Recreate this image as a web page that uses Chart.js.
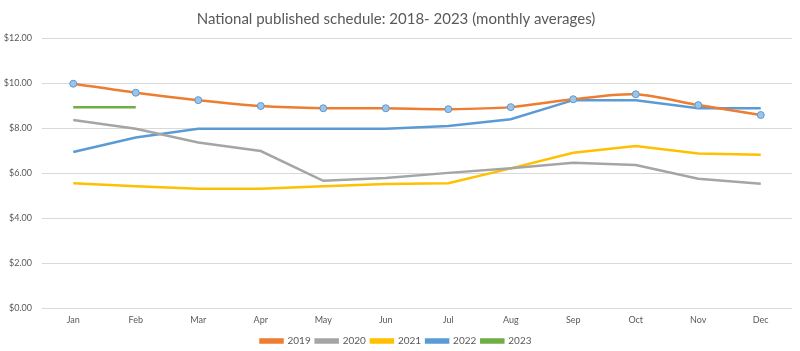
<!DOCTYPE html>
<html lang="en">
<head>
    <meta charset="UTF-8">
    <title>National published schedule</title>
    <script src="https://cdn.jsdelivr.net/npm/chart.js@4/dist/chart.umd.min.js"></script>
    <style>
        html, body { margin: 0; padding: 0; background: #fff; }
        #wrap { width: 800px; height: 351px; }
    </style>
</head>
<body>
    <div id="wrap"><canvas id="myChart"></canvas></div>

    <script>
        const months = ["Jan", "Feb", "Mar", "Apr", "May", "Jun", "Jul", "Aug", "Sep", "Oct", "Nov", "Dec"];
        const y2019 = [9.97, 9.57, 9.24, 8.98, 8.88, 8.88, 8.84, 8.93, 9.28, 9.50, 9.02, 8.58];
        const y2020 = [8.36, 7.97, 7.36, 6.98, 5.66, 5.78, 6.01, 6.21, 6.46, 6.36, 5.75, 5.53];
        const y2021 = [5.55, 5.42, 5.30, 5.30, 5.42, 5.52, 5.55, 6.21, 6.90, 7.20, 6.87, 6.81];
        const y2022 = [6.94, 7.58, 7.97, 7.97, 7.97, 7.97, 8.09, 8.39, 9.24, 9.23, 8.88, 8.88];
        const y2023 = [8.92, 8.92];

        const grey = "#595959";
        const font = "Lato, 'Open Sans', sans-serif";

        const line = (label, data, color, extra) => Object.assign({
            label: label,
            data: data,
            borderColor: color,
            backgroundColor: color,
            borderWidth: 2.5,
            pointRadius: 0,
            tension: 0,
            fill: false
        }, extra || {});

        // shrink the legend box so the plot reaches further down, like the original
        const legendTrim = {
            id: "legendTrim",
            beforeInit(chart) {
                const fit = chart.legend.fit;
                chart.legend.fit = function () {
                    fit.call(this);
                    this.height -= 5;
                };
            }
        };

        const chart = new Chart("myChart", {
            type: "line",
            data: {
                labels: months,
                datasets: [
                    line("2019", y2019, "#ED7D31", {
                        tension: 0.3,
                        pointRadius: 3.5,
                        pointBackgroundColor: "#9DC3E6",
                        pointBorderColor: "#5B9BD5",
                        pointBorderWidth: 1
                    }),
                    line("2020", y2020, "#A5A5A5"),
                    line("2021", y2021, "#FFC000"),
                    line("2022", y2022, "#5B9BD5"),
                    line("2023", y2023, "#70AD47")
                ]
            },
            options: {
                responsive: true,
                maintainAspectRatio: false,
                animation: false,
                layout: { padding: { left: 0, right: 8, top: 4, bottom: 0 } },
                plugins: {
                    title: {
                        display: true,
                        text: "National published schedule: 2018- 2023 (monthly averages)",
                        color: grey,
                        font: { family: font, size: 15, weight: "normal" },
                        padding: { top: 6, bottom: 10 }
                    },
                    legend: {
                        position: "bottom",
                        labels: {
                            color: grey,
                            font: { family: font, size: 10 },
                            boxWidth: 22,
                            boxHeight: 3,
                            padding: 5
                        }
                    },
                    tooltip: { enabled: false }
                },
                scales: {
                    x: {
                        offset: true,
                        grid: { display: false, drawTicks: false },
                        border: { display: false },
                        ticks: { color: grey, font: { family: font, size: 9 }, padding: 6 }
                    },
                    y: {
                        min: 0,
                        max: 12,
                        afterFit: (scale) => { scale.width = 42; },
                        grid: { color: "#D9D9D9", drawTicks: false },
                        border: { display: false },
                        ticks: {
                            stepSize: 2,
                            color: grey,
                            font: { family: font, size: 9 },
                            padding: 10,
                            callback: (v) => "$" + v.toFixed(2)
                        }
                    }
                }
            },
            plugins: [legendTrim]
        });
    </script>
</body>
</html>
